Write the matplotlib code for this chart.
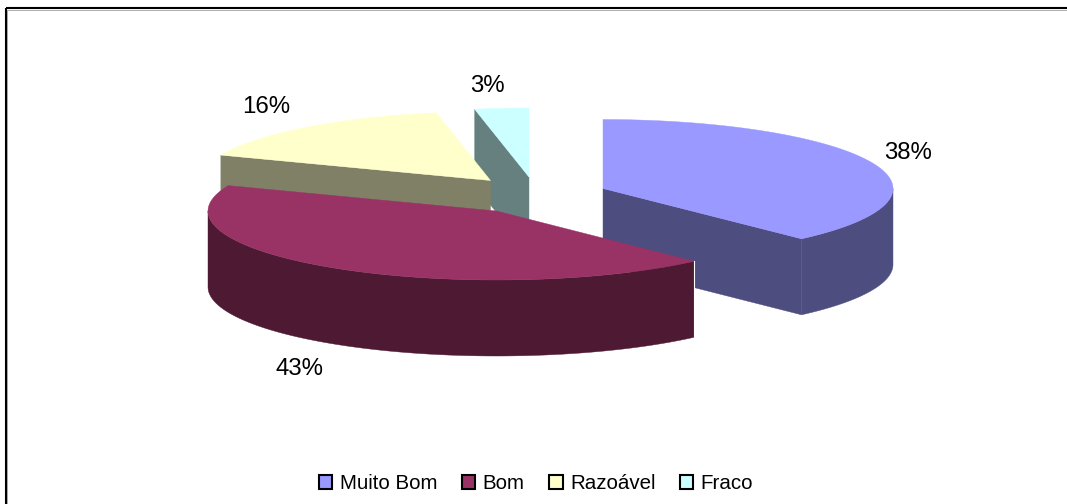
import numpy as np
import matplotlib
matplotlib.use("Agg")
import matplotlib.pyplot as plt
from matplotlib.patches import Rectangle, Patch

plt.rcParams['font.family'] = ['Liberation Sans', 'DejaVu Sans']

categories = ["Muito Bom", "Bom", "Razoável", "Fraco"]
values = [38, 43, 16, 3]
top_colors = ["#9999FF", "#993366", "#FFFFCC", "#CCFFFF"]
wall_colors = ["#4D4D80", "#4D1933", "#808066", "#668080"]

# layout of the exploded pie, in pixels
centers = [(603, 188.5), (496.5, 211), (490.5, 180.5), (529, 177)]
radii_x = [290, 288.5, 290, 290]
RADIUS_Y = 69
DEPTH = 76
label_pos = [(908, 153), (299, 369), (266, 107), (487, 86)]
draw_order = [3, 2, 0, 1]

fig = plt.figure(figsize=(10.67, 5.04), dpi=100)
ax = fig.add_axes([0, 0, 1, 1])
ax.set_xlim(0, 1067)
ax.set_ylim(504, 0)
ax.axis("off")

# chart frame (its right and bottom sides lie outside the picture)
ax.add_patch(Rectangle((5.5, 8), 1200, 700, fill=False, ec="black", lw=1.5, zorder=1))
ax.add_patch(Rectangle((7.2, 9.7), 1200, 700, fill=False, ec="#A0A0A0", lw=0.6, zorder=0.9))


def point(c, rx, deg, dy=0.0):
    t = np.radians(deg)
    return c[0] + rx * np.sin(t), c[1] - RADIUS_Y * np.cos(t) + dy


def arc(c, rx, a0, a1, dy=0.0):
    t = np.radians(np.linspace(a0, a1, 200))
    return c[0] + rx * np.sin(t), c[1] - RADIUS_Y * np.cos(t) + dy


edges = np.cumsum([0] + values) * 3.6
z = 2
for i in draw_order:
    c, rx = centers[i], radii_x[i]
    a0, a1 = edges[i], edges[i + 1]
    wall, top = wall_colors[i], top_colors[i]
    # flat cut faces that look towards the viewer
    for edge, normal in ((a0, a0 - 90), (a1, a1 + 90)):
        if np.cos(np.radians(normal)) < 0:
            ex, ey = point(c, rx, edge)
            ax.fill([c[0], ex, ex, c[0]], [c[1], ey, ey + DEPTH, c[1] + DEPTH],
                    color=wall, lw=0.3, zorder=z)
    # curved outer wall, front half only
    lo, hi = max(a0, 90), min(a1, 270)
    if lo < hi:
        xs, ys = arc(c, rx, lo, hi)
        xb, yb = arc(c, rx, lo, hi, DEPTH)
        ax.fill(np.r_[xs, xb[::-1]], np.r_[ys, yb[::-1]], color=wall, lw=0.3, zorder=z)
        if lo > 90:
            ax.plot([xs[0], xs[0]], [ys[0], yb[0]], color="white", lw=0.8, zorder=z + 0.5)
    # top face
    xs, ys = arc(c, rx, a0, a1)
    ax.fill(np.r_[c[0], xs], np.r_[c[1], ys], color=top, lw=0.3, zorder=z + 0.6)
    z += 1

for v, (x, y) in zip(values, label_pos):
    ax.text(x, y, f"{v}%", fontsize=17.3, color="black", ha="center", va="center", zorder=10)

handles = [Patch(facecolor=col, edgecolor="black", linewidth=1.5, label=cat)
           for col, cat in zip(top_colors, categories)]
ax.legend(handles=handles, ncol=4, frameon=False, fontsize=14.8,
          loc="center", bbox_to_anchor=(536, 483.5), bbox_transform=ax.transData,
          handlelength=0.66, handleheight=0.66, handletextpad=0.36,
          columnspacing=1.19, borderpad=0, borderaxespad=0)

fig.savefig("out.png", dpi=100)
